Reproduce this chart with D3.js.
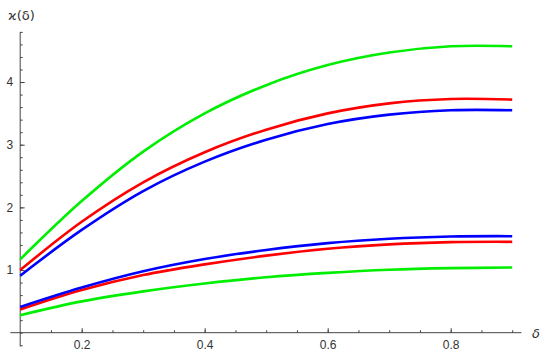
<!DOCTYPE html>
<html>
<head>
<meta charset="utf-8">
<script src="https://cdn.jsdelivr.net/npm/d3@7"></script>
<style>
  body { margin: 0; background: #fff; }
  svg { display: block; }
  .axis text { font-family: "Liberation Sans", Arial, sans-serif; font-size: 12px; fill: #333; }
  .axis line, .axis path { stroke: #444; }
</style>
</head>
<body>
<div id="chart"></div>
<script>
// delta values
var delta = [0.1, 0.2, 0.3, 0.4, 0.5, 0.6, 0.7, 0.8, 0.9];

// upper group
var greenHigh = [1.17, 2.10, 2.89, 3.50, 3.95, 4.27, 4.47, 4.57, 4.57];
var redHigh   = [1.00, 1.77, 2.40, 2.88, 3.24, 3.50, 3.66, 3.73, 3.72];
var blueHigh  = [0.91, 1.64, 2.26, 2.73, 3.08, 3.33, 3.48, 3.55, 3.55];

// lower group
var blueLow  = [0.41, 0.72, 0.98, 1.175, 1.32, 1.43, 1.50, 1.535, 1.54];
var redLow   = [0.37, 0.68, 0.92, 1.09, 1.23, 1.34, 1.41, 1.445, 1.45];
var greenLow = [0.28, 0.50, 0.66, 0.785, 0.885, 0.955, 1.005, 1.03, 1.04];

var xMajor = [0.2, 0.4, 0.6, 0.8];
var yMajor = [1, 2, 3, 4];

var width = 550, height = 354;

var x = d3.scaleLinear().domain([0.1, 0.9]).range([20.2, 512.2]);
var y = d3.scaleLinear().domain([0, 4.8]).range([332.7, 31.9]);

var svg = d3.select("#chart")
    .append("svg")
    .attr("width", width)
    .attr("height", height);

// minor ticks
var xMinor = d3.range(0.15, 0.9001, 0.05);
var yMinor = d3.range(-0.2, 4.8001, 0.2);

svg.append("g")
    .attr("class", "axis")
    .attr("transform", "translate(0," + y(0) + ")")
    .call(d3.axisBottom(x).tickValues(xMinor).tickSizeInner(-2.5).tickSizeOuter(0).tickFormat(""))
    .call(function(g) { g.select(".domain").remove(); });

svg.append("g")
    .attr("class", "axis")
    .attr("transform", "translate(0," + y(0) + ")")
    .call(d3.axisBottom(x).tickValues(xMajor).tickSizeInner(-4.5).tickSizeOuter(0).tickPadding(8).tickFormat(d3.format(".1f")))
    .call(function(g) { g.select(".domain").remove(); });

svg.append("g")
    .attr("class", "axis")
    .attr("transform", "translate(" + x(0.1) + ",0)")
    .call(d3.axisLeft(y).tickValues(yMinor).tickSizeInner(-2.5).tickSizeOuter(0).tickFormat(""))
    .call(function(g) { g.select(".domain").remove(); });

svg.append("g")
    .attr("class", "axis")
    .attr("transform", "translate(" + x(0.1) + ",0)")
    .call(d3.axisLeft(y).tickValues(yMajor).tickSizeInner(-4.5).tickSizeOuter(0).tickPadding(7).tickFormat(d3.format("d")))
    .call(function(g) { g.select(".domain").remove(); });

// axis lines
svg.append("line")
    .attr("x1", x(0.084)).attr("x2", x(0.915))
    .attr("y1", y(0)).attr("y2", y(0))
    .attr("stroke", "#444");
svg.append("line")
    .attr("x1", x(0.1)).attr("x2", x(0.1))
    .attr("y1", y(-0.22)).attr("y2", y(4.8))
    .attr("stroke", "#444");

// axis labels
svg.append("text")
    .attr("x", 8)
    .attr("y", 20)
    .style("font-family", "'DejaVu Sans', sans-serif")
    .style("font-size", "13px")
    .style("fill", "#333")
    .text("ϰ(δ)");

svg.append("text")
    .attr("x", 532)
    .attr("y", y(0) + 5)
    .style("font-family", "'DejaVu Sans', sans-serif")
    .style("font-style", "italic")
    .style("font-size", "13px")
    .style("fill", "#333")
    .text("δ");

// curves
var series = [
    { values: greenLow, color: "#00ee00" },
    { values: redLow, color: "#ff0000" },
    { values: blueLow, color: "#0000ff" },
    { values: blueHigh, color: "#0000ff" },
    { values: redHigh, color: "#ff0000" },
    { values: greenHigh, color: "#00ee00" }
];

var line = d3.line()
    .x(function(d, i) { return x(delta[i]); })
    .y(function(d) { return y(d); })
    .curve(d3.curveCatmullRom.alpha(0.5));

svg.selectAll(".curve")
    .data(series)
    .enter()
    .append("path")
    .attr("class", "curve")
    .attr("d", function(s) { return line(s.values); })
    .attr("fill", "none")
    .attr("stroke", function(s) { return s.color; })
    .attr("stroke-width", 2.6);
</script>
</body>
</html>
